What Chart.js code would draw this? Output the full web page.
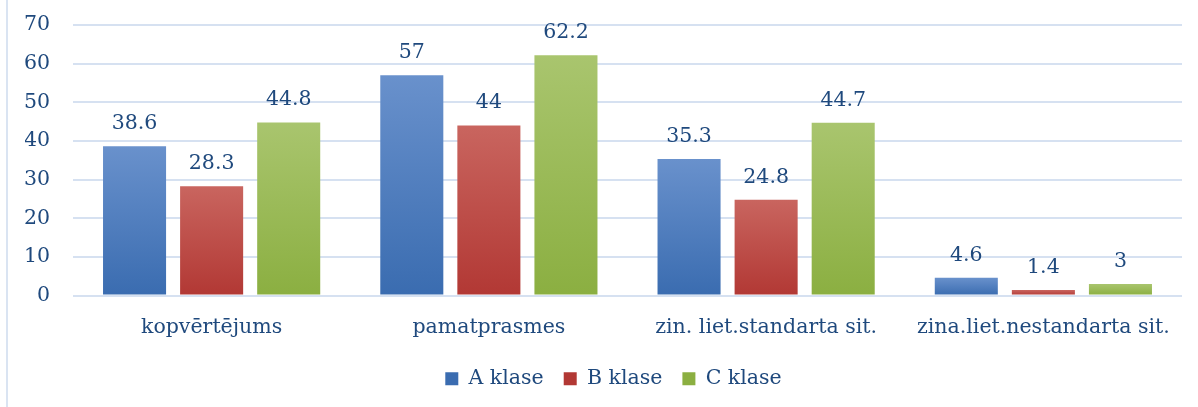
<!DOCTYPE html>
<html lang="lv">
<head>
    <meta charset="UTF-8">
    <title>Klašu rezultāti</title>
    <script src="https://cdn.jsdelivr.net/npm/chart.js"></script>
    <style>
        html, body { margin: 0; padding: 0; background: #fff; }
        #wrap { width: 1198px; height: 407px; position: relative; }
    </style>
</head>
<body>
    <div id="wrap"><canvas id="chart"></canvas></div>
    <script>
        const categories = ['kopvērtējums', 'pamatprasmes', 'zin. liet.standarta sit.', 'zina.liet.nestandarta sit.'];
        const seriesNames = ['A klase', 'B klase', 'C klase'];
        const aValues = [38.6, 57, 35.3, 4.6];
        const bValues = [28.3, 44, 24.8, 1.4];
        const cValues = [44.8, 62.2, 44.7, 3];
        const yTicks = [0, 10, 20, 30, 40, 50, 60, 70];

        const textColor = '#1F497D';
        const fontFamily = '"DejaVu Serif", serif';
        const fontSize = 20.5;

        // vertical gradient per bar, light on top, dark at the base
        function barGradient(top, bottom) {
            return (ctx) => {
                const chart = ctx.chart;
                const y = chart.scales.y;
                if (ctx.type !== 'data' || !y) return bottom;
                const y0 = y.getPixelForValue(0);
                const y1 = y.getPixelForValue(ctx.raw);
                if (!isFinite(y0) || !isFinite(y1) || y0 === y1) return bottom;
                const g = chart.ctx.createLinearGradient(0, y1, 0, y0);
                g.addColorStop(0, top);
                g.addColorStop(1, bottom);
                return g;
            };
        }

        const valueLabels = {
            id: 'valueLabels',
            afterDatasetsDraw(chart) {
                const c = chart.ctx;
                c.save();
                c.font = fontSize + 'px ' + fontFamily;
                c.fillStyle = textColor;
                c.textAlign = 'center';
                c.textBaseline = 'alphabetic';
                chart.data.datasets.forEach((ds, i) => {
                    chart.getDatasetMeta(i).data.forEach((bar, j) => {
                        c.fillText(String(ds.data[j]), bar.x, bar.y - 17);
                    });
                });
                c.restore();
            }
        };

        const leftBorder = {
            id: 'leftBorder',
            beforeDraw(chart) {
                const c = chart.ctx;
                c.save();
                c.fillStyle = '#DAE4F2';
                c.fillRect(6, 0, 2, chart.height);
                c.restore();
            }
        };

        // legend sits a bit right of the centre in the original
        const legendShift = {
            id: 'legendShift',
            afterLayout(chart) {
                if (chart.legend) {
                    chart.legend.left += 10;
                    chart.legend.right += 10;
                }
            }
        };

        new Chart(document.getElementById('chart'), {
            type: 'bar',
            data: {
                labels: categories,
                datasets: [
                    { label: seriesNames[0], data: aValues, backgroundColor: barGradient('#6991CC', '#3A6CB0') },
                    { label: seriesNames[1], data: bValues, backgroundColor: barGradient('#C9655F', '#B23834') },
                    { label: seriesNames[2], data: cValues, backgroundColor: barGradient('#A9C56E', '#8BAF41') }
                ]
            },
            options: {
                responsive: true,
                maintainAspectRatio: false,
                animation: false,
                layout: { padding: { left: 25, right: 16, top: 25, bottom: 8 } },
                datasets: { bar: { categoryPercentage: 0.834, barPercentage: 0.818 } },
                scales: {
                    x: {
                        grid: { display: false },
                        border: { display: false },
                        ticks: { color: textColor, font: { family: fontFamily, size: fontSize }, padding: 12 },
                        afterFit: (s) => { s.height = 53; s.paddingLeft = 0; s.paddingRight = 0; }
                    },
                    y: {
                        min: 0,
                        max: 70,
                        afterBuildTicks: (s) => { s.ticks = yTicks.map(v => ({ value: v })); },
                        grid: { color: '#D6E1F1', lineWidth: 2, drawTicks: false },
                        border: { display: false },
                        ticks: { color: textColor, font: { family: fontFamily, size: fontSize }, padding: 23 },
                        afterFit: (s) => { s.width = 48; s.paddingTop = 0; s.paddingBottom = 0; }
                    }
                },
                plugins: {
                    legend: {
                        position: 'bottom',
                        labels: {
                            color: textColor,
                            font: { family: fontFamily, size: fontSize },
                            boxWidth: 13,
                            boxHeight: 13,
                            padding: 20
                        }
                    },
                    tooltip: { enabled: false }
                }
            },
            plugins: [leftBorder, legendShift, valueLabels]
        });
    </script>
</body>
</html>
